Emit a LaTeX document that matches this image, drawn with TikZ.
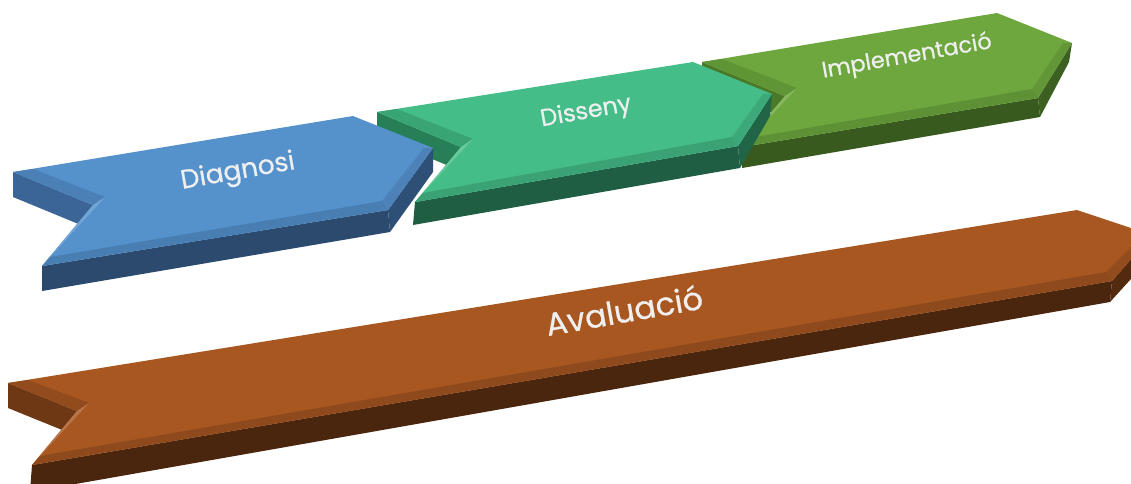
\documentclass[tikz,border=0pt]{standalone}
\usepackage{fontspec}
\setmainfont{Poppins}
\newfontfamily\lblfont{Poppins}[FakeBold=0.6]
\usetikzlibrary{calc}
\definecolor{bTop}{HTML}{5592CC}
\definecolor{bSide}{HTML}{3A6596}
\definecolor{bFront}{HTML}{2B4A6E}
\definecolor{gTop}{HTML}{45BD88}
\definecolor{gSide}{HTML}{267F56}
\definecolor{gFront}{HTML}{1F5E42}
\definecolor{oTop}{HTML}{6DA73D}
\definecolor{oSide}{HTML}{4A7A27}
\definecolor{oFront}{HTML}{395A1F}
\definecolor{rTop}{HTML}{A85721}
\definecolor{rSide}{HTML}{6E3814}
\definecolor{rFront}{HTML}{4A260E}
\definecolor{txtMain}{HTML}{EFEFEF}
\newcommand\drawchev[4]{%
  \fill[#3] (#1A) -- (#1F) -- (#1Ft) -- (#1At) -- cycle;
  \fill[#4!80!#3] (#1C) -- (#1D) -- (#1Dt) -- (#1Ct) -- cycle;
  \fill[#4] (#1E) -- (#1D) -- (#1Dt) -- (#1Et) -- cycle;
  \fill[#2] (#1A) -- (#1B) -- (#1C) -- (#1D) -- (#1E) -- (#1F) -- cycle;
  \fill[#2!60!#3] (#1A) -- (#1F) -- ($(#1F)+(12,-8)$) -- ($(#1A)+(20,-3)$) -- cycle;
  \fill[#2!82!white] (#1F) -- (#1E) -- ($(#1E)+(8,-9)$) -- ($(#1F)+(12,-8)$) -- cycle;
  \fill[#2!72!#4] (#1E) -- (#1D) -- ($(#1D)+(-6,-9)$) -- ($(#1E)+(8,-9)$) -- cycle;
  \fill[#2!78!#4] (#1D) -- (#1C) -- ($(#1C)+(-9,0)$) -- ($(#1D)+(-6,-9)$) -- cycle;
}
\tikzset{
  lbl/.style={inner sep=0pt, rotate=10, text=txtMain, font=\lblfont}
}
\begin{document}
\begin{tikzpicture}[x=1pt,y=-1pt]
\useasboundingbox (0,0) rectangle (1131,483);
\clip (0,0) rectangle (1131,483);
% olive
\coordinate (oA) at (702,62);  \coordinate (oAt) at (702,84);
\coordinate (oB) at (997,13);
\coordinate (oC) at (1072,43); \coordinate (oCt) at (1069,62);
\coordinate (oD) at (1038,98); \coordinate (oDt) at (1040,117);
\coordinate (oE) at (742,147); \coordinate (oEt) at (742,168);
\coordinate (oF) at (785,96);  \coordinate (oFt) at (785,118);
% green
\coordinate (gA) at (377,112); \coordinate (gAt) at (377,136);
\coordinate (gB) at (693,62);
\coordinate (gC) at (772,94);  \coordinate (gCt) at (770,116);
\coordinate (gD) at (738,146); \coordinate (gDt) at (740,168);
\coordinate (gE) at (415,202); \coordinate (gEt) at (413,225);
\coordinate (gF) at (461,147); \coordinate (gFt) at (461,171);
% blue
\coordinate (bA) at (13,172);  \coordinate (bAt) at (13,197);
\coordinate (bB) at (353,116);
\coordinate (bC) at (433,148); \coordinate (bCt) at (433,172);
\coordinate (bD) at (388,210); \coordinate (bDt) at (390,232);
\coordinate (bE) at (42,266);  \coordinate (bEt) at (42,291);
\coordinate (bF) at (93,205);  \coordinate (bFt) at (93,230);
% brown
\coordinate (rA) at (8,383);   \coordinate (rAt) at (8,408);
\coordinate (rB) at (1077,210);
\coordinate (rC) at (1152,235); \coordinate (rCt) at (1150,258);
\coordinate (rD) at (1112,281); \coordinate (rDt) at (1110,302);
\coordinate (rE) at (32,465);  \coordinate (rEt) at (30,492);
\coordinate (rF) at (77,411);  \coordinate (rFt) at (77,436);

\drawchev{o}{oTop}{oSide}{oFront}
\drawchev{g}{gTop}{gSide}{gFront}
\drawchev{b}{bTop}{bSide}{bFront}
\drawchev{r}{rTop}{rSide}{rFront}

\node[lbl] (tD) at (238,172.5) {\fontsize{26.5}{30}\selectfont Diagnosi};
\node[lbl] (tS) at (586,112.5) {\fontsize{24}{28}\selectfont Disseny};
\node[lbl] (tI) at (907,57) {\fontsize{22.5}{26}\selectfont Implementació};
\node[lbl] (tA) at (624,310) {\fontsize{32}{36}\selectfont Avaluació};
\end{tikzpicture}
\end{document}
